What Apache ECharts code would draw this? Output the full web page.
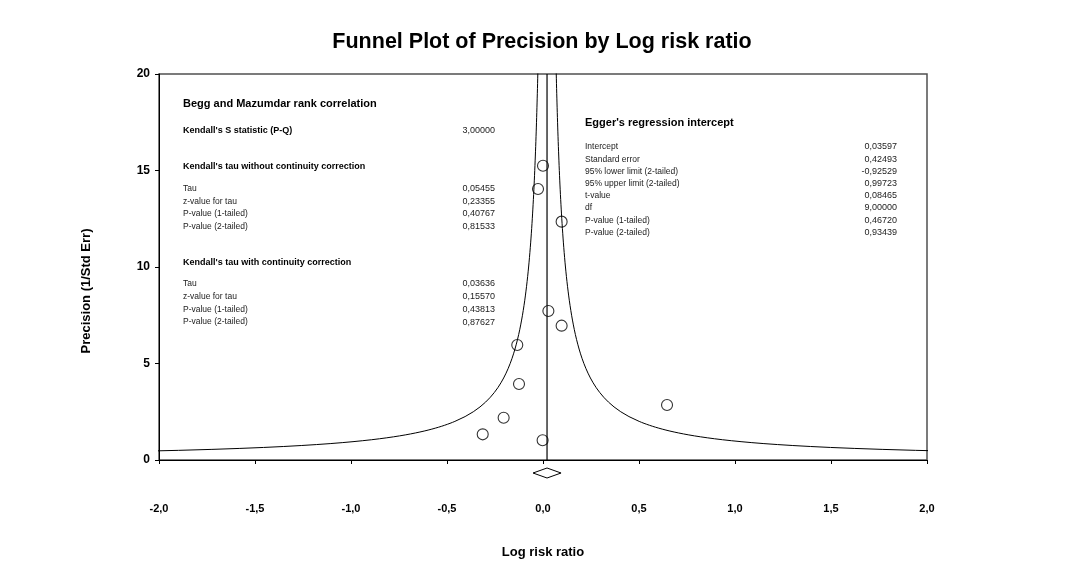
<!DOCTYPE html>
<html>
<head>
<meta charset="utf-8">
<script src="https://cdn.jsdelivr.net/npm/echarts@6/dist/echarts.min.js"></script>
<style>
html,body{margin:0;padding:0;background:#fff;}
#chart{width:1084px;height:586px;}
</style>
</head>
<body>
<div id="chart"></div>
<script>
// ---- Data ----
const chartTitle = 'Funnel Plot of Precision by Log risk ratio';
const xAxisName = 'Log risk ratio';
const yAxisName = 'Precision (1/Std Err)';

const studyLogRR     = [0.000, -0.026, 0.097, 0.028, 0.097, -0.134, -0.125, -0.205, -0.314, -0.002, 0.646];
const studyPrecision = [15.25, 14.04, 12.35, 7.72, 6.96, 5.96, 3.94, 2.19, 1.33, 1.02, 2.85];

const pooledLogRR = 0.021;
const pooledLower = -0.052;
const pooledUpper = 0.094;
const funnelLimitFactor = 0.96;   // half-width of funnel = factor / precision

const xTicks = [-2, -1.5, -1, -0.5, 0, 0.5, 1, 1.5, 2];
const yTicks = [0, 5, 10, 15, 20];

const beggTitle = 'Begg and Mazumdar rank correlation';
const beggSLabel = "Kendall's S statistic (P-Q)";
const beggSValue = '3,00000';
const tauNoCorrTitle = "Kendall's tau without continuity correction";
const tauNoCorrLabels = ['Tau', 'z-value for tau', 'P-value (1-tailed)', 'P-value (2-tailed)'];
const tauNoCorrValues = ['0,05455', '0,23355', '0,40767', '0,81533'];
const tauCorrTitle = "Kendall's tau with continuity correction";
const tauCorrLabels = ['Tau', 'z-value for tau', 'P-value (1-tailed)', 'P-value (2-tailed)'];
const tauCorrValues = ['0,03636', '0,15570', '0,43813', '0,87627'];

const eggerTitle = "Egger's regression intercept";
const eggerLabels = ['Intercept', 'Standard error', '95% lower limit (2-tailed)', '95% upper limit (2-tailed)', 't-value', 'df', 'P-value (1-tailed)', 'P-value (2-tailed)'];
const eggerValues = ['0,03597', '0,42493', '-0,92529', '0,99723', '0,08465', '9,00000', '0,46720', '0,93439'];

// ---- Build chart ----
const FONT = '"Liberation Sans", Arial, sans-serif';
const precisionSamples = [];
for (let p = 0.3; p <= 30; p += (p < 2 ? 0.05 : 0.25)) precisionSamples.push(p);
const funnelLeft = precisionSamples.map(p => [pooledLogRR - funnelLimitFactor / p, p]);
const funnelRight = precisionSamples.map(p => [pooledLogRR + funnelLimitFactor / p, p]);
const points = studyLogRR.map((x, i) => [x, studyPrecision[i]]);

const graphics = [];
function txt(x, y, text, font, align, fill) {
  graphics.push({type: 'text', silent: true, style: {x: x, y: y, text: text, font: font, fill: fill || '#111', align: align || 'left', verticalAlign: 'middle'}});
}
const headFont = 'bold 11px ' + FONT;
const subFont = 'bold 9px ' + FONT;
const rowFont = '8.5px ' + FONT;
const valFont = '9px ' + FONT;

// Left block
txt(183, 104, beggTitle, headFont, 'left', '#000');
txt(183, 131, beggSLabel, subFont, 'left', '#000');
txt(495, 131, beggSValue, valFont, 'right', '#222');
txt(183, 166.5, tauNoCorrTitle, subFont, 'left', '#000');
tauNoCorrLabels.forEach((l, i) => {
  txt(183, 189 + i * 12.4, l, rowFont, 'left', '#222');
  txt(495, 189 + i * 12.4, tauNoCorrValues[i], valFont, 'right', '#222');
});
txt(183, 263, tauCorrTitle, subFont, 'left', '#000');
tauCorrLabels.forEach((l, i) => {
  txt(183, 284 + i * 12.7, l, rowFont, 'left', '#222');
  txt(495, 284 + i * 12.7, tauCorrValues[i], valFont, 'right', '#222');
});
// Right block
txt(585, 123, eggerTitle, headFont, 'left', '#000');
eggerLabels.forEach((l, i) => {
  txt(585, 147 + i * 12.2, l, rowFont, 'left', '#222');
  txt(897, 147 + i * 12.2, eggerValues[i], valFont, 'right', '#222');
});
// Axis names
graphics.push({type: 'text', silent: true, x: 86, y: 291, rotation: Math.PI / 2,
  style: {x: 0, y: 0, text: yAxisName, font: 'bold 13px ' + FONT, fill: '#000', align: 'center', verticalAlign: 'middle'}});
txt(543, 552, xAxisName, 'bold 13px ' + FONT, 'center', '#000');

const chart = echarts.init(document.getElementById('chart'), null, {renderer: 'canvas'});
chart.setOption({
  backgroundColor: '#fff',
  animation: false,
  title: {
    text: chartTitle, left: 'center', top: 26,
    textStyle: {fontFamily: FONT, fontWeight: 'bold', fontSize: 21.5, color: '#000'}
  },
  grid: {left: 159, top: 74, right: 157, bottom: 126, show: true, borderColor: '#505050', borderWidth: 1.5, backgroundColor: '#fff'},
  xAxis: {
    type: 'value', min: xTicks[0], max: xTicks[xTicks.length - 1], interval: 0.5,
    axisLine: {show: true, onZero: false, lineStyle: {color: '#000', width: 1}},
    axisTick: {show: true, length: 4, lineStyle: {color: '#000'}},
    splitLine: {show: false},
    axisLabel: {margin: 43, fontFamily: FONT, fontWeight: 'bold', fontSize: 11, color: '#000',
      formatter: v => v.toFixed(1).replace('.', ',')}
  },
  yAxis: {
    type: 'value', min: yTicks[0], max: yTicks[yTicks.length - 1], interval: 5,
    axisLine: {show: true, onZero: false, lineStyle: {color: '#000', width: 1}},
    axisTick: {show: true, length: 4, lineStyle: {color: '#000'}},
    splitLine: {show: false},
    axisLabel: {margin: 9, fontFamily: FONT, fontWeight: 'bold', fontSize: 12, color: '#000'}
  },
  graphic: graphics,
  series: [
    {type: 'line', data: funnelLeft, showSymbol: false, symbol: 'none', lineStyle: {color: '#000', width: 1}, silent: true, z: 2},
    {type: 'line', data: funnelRight, showSymbol: false, symbol: 'none', lineStyle: {color: '#000', width: 1}, silent: true, z: 2},
    {type: 'line', data: [[pooledLogRR, 0], [pooledLogRR, yTicks[yTicks.length - 1]]], showSymbol: false, symbol: 'none', lineStyle: {color: '#000', width: 1.2}, silent: true, z: 2},
    {type: 'scatter', data: points, symbol: 'circle', symbolSize: 11,
      itemStyle: {color: 'rgba(255,255,255,0)', borderColor: '#000', borderWidth: 1.1}, z: 3},
    {type: 'custom', clip: false, silent: true, z: 3,
      data: [[pooledLower, pooledLogRR, pooledUpper]],
      renderItem: function (params, api) {
        const l = api.coord([api.value(0), 0]);
        const m = api.coord([api.value(1), 0]);
        const r = api.coord([api.value(2), 0]);
        const cy = m[1] + 13;
        return {type: 'polygon', shape: {points: [[l[0], cy], [m[0], cy - 5], [r[0], cy], [m[0], cy + 5]]},
          style: {fill: '#fff', stroke: '#000', lineWidth: 1}};
      }}
  ]
});
</script>
</body>
</html>
